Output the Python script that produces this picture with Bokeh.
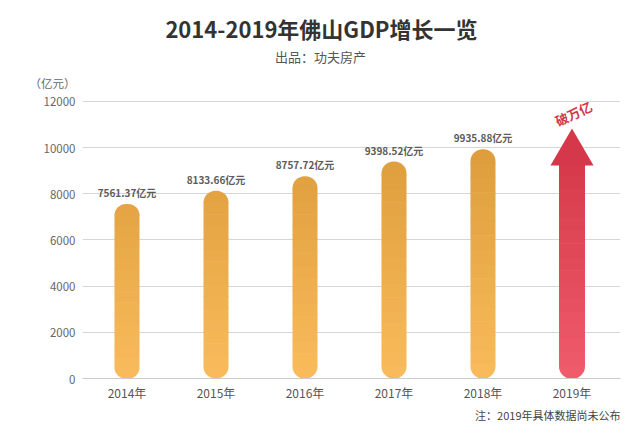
import numpy as np
from bokeh.plotting import figure
from bokeh.models import Range1d, FixedTicker, Label, ColumnDataSource, Title
from bokeh.core.properties import value
from bokeh.embed import file_html
from bokeh.resources import INLINE

# ---------------- data ----------------
years = ["2014年", "2015年", "2016年", "2017年", "2018年", "2019年"]
gdp = [7561.37, 8133.66, 8757.72, 9398.52, 9935.88]
gdp_text = ["7561.37亿元", "8133.66亿元", "8757.72亿元", "9398.52亿元", "9935.88亿元"]
arrow_tip = 10830        # 2019: arrow, value not yet published
arrow_head_base = 9230
arrow_text = "破万亿"
y_ticks = [0, 2000, 4000, 6000, 8000, 10000, 12000]
unit_tick = 12820
unit_text = "（亿元）"
title_text = "2014-2019年佛山GDP增长一览"
subtitle_text = "出品：功夫房产"
note_text = "注：2019年具体数据尚未公布"

FONT = "Noto Sans CJK SC"

# colours (bottom -> top gradient)
ORANGE_BOTTOM = (250, 187, 92)
ORANGE_TOP = (221, 157, 60)
RED_BOTTOM = (240, 92, 108)
RED_TOP = (212, 56, 72)
GRAD_MAX = 10000.0


def mix(c0, c1, t):
    t = max(0.0, min(1.0, t))
    return "#%02x%02x%02x" % tuple(int(round(a + (b - a) * t)) for a, b in zip(c0, c1))


p = figure(width=640, height=431, output_backend="svg", toolbar_location=None, title_location=None,
           x_range=Range1d(0, 6.045), y_range=Range1d(0, 16375),
           min_border_left=82, min_border_right=20, min_border_top=0, min_border_bottom=53)
p.outline_line_color = None
p.background_fill_color = "white"
p.border_fill_color = "white"

# y axis + grid
p.ygrid.ticker = FixedTicker(ticks=y_ticks)
p.ygrid.grid_line_color = "#d6d6d6"
p.ygrid.grid_line_width = 1
p.xgrid.grid_line_color = None
p.yaxis.ticker = FixedTicker(ticks=y_ticks + [unit_tick])
p.yaxis.major_label_overrides = {unit_tick: unit_text}
p.yaxis.axis_line_color = None
p.yaxis.major_tick_line_color = None
p.yaxis.minor_tick_line_color = None
p.yaxis.major_tick_out = 0
p.yaxis.major_tick_in = 0
p.yaxis.major_label_standoff = 7
p.yaxis.major_label_text_font = FONT
p.yaxis.major_label_text_font_size = "11.5px"
p.yaxis.major_label_text_color = "#666666"

# x axis
xt = [i + 0.5 for i in range(len(years))]
p.xaxis.ticker = FixedTicker(ticks=xt)
p.xaxis.major_label_overrides = {t: y for t, y in zip(xt, years)}
p.xaxis.axis_line_color = "#cccccc"
p.xaxis.major_tick_line_color = None
p.xaxis.minor_tick_line_color = None
p.xaxis.major_tick_out = 0
p.xaxis.major_tick_in = 0
p.xaxis.major_label_standoff = 5
p.xaxis.major_label_text_font = FONT
p.xaxis.major_label_text_font_size = "12px"
p.xaxis.major_label_text_color = "#555555"

# ---------------- bars built from gradient slices ----------------
BAR_W = 0.281
R = 12
N = 16
OV = 25

groups = {"bottom": dict(left=[], right=[], top=[], bottom=[], color=[]),
          "mid": dict(left=[], right=[], top=[], bottom=[], color=[]),
          "top": dict(left=[], right=[], top=[], bottom=[], color=[])}


def add_slices(xc, v, w, c0, c1, round_top):
    edges = np.linspace(0, v, N + 1)
    for k in range(N):
        b = edges[k] - (OV if k > 0 else 0)
        t = edges[k + 1]
        col = mix(c0, c1, (edges[k] + edges[k + 1]) / 2 / GRAD_MAX)
        if k == 0:
            g = "bottom"
        elif k == N - 1 and round_top:
            g = "top"
        else:
            g = "mid"
        d = groups[g]
        d["left"].append(xc - w / 2)
        d["right"].append(xc + w / 2)
        d["bottom"].append(b)
        d["top"].append(t)
        d["color"].append(col)


for i, v in enumerate(gdp):
    add_slices(i + 0.5, v, BAR_W, ORANGE_BOTTOM, ORANGE_TOP, True)

# 2019 arrow shaft
ax = len(gdp) + 0.5
add_slices(ax, arrow_head_base + 150, 0.292, RED_BOTTOM, RED_TOP, False)

p.quad(source=ColumnDataSource(groups["bottom"]), left="left", right="right", top="top", bottom="bottom",
       fill_color="color", line_color=None, border_radius=(0, 0, R, R))
p.quad(source=ColumnDataSource(groups["mid"]), left="left", right="right", top="top", bottom="bottom",
       fill_color="color", line_color=None)
p.quad(source=ColumnDataSource(groups["top"]), left="left", right="right", top="top", bottom="bottom",
       fill_color="color", line_color=None, border_radius=(R, R, 0, 0))

# arrow head
p.patch(x=[ax - 0.242, ax, ax + 0.242], y=[arrow_head_base, arrow_tip, arrow_head_base],
        fill_color="#d5384a", line_color=None)

# value labels
p.text(x=[i + 0.5 for i in range(len(gdp))], y=gdp, text=gdp_text,
       text_font=value(FONT), text_font_size="10px", text_font_style="bold",
       text_color="#5c5c5c", text_align="center", text_baseline="bottom", y_offset=-4)

# 破万亿
p.add_layout(Label(x=5.517, y=11480, text=arrow_text, angle=0.44, text_font=FONT,
                   text_font_size="13px", text_font_style="bold", text_color="#d3394b",
                   text_align="center", text_baseline="middle"))

# title & subtitle (inside the frame's top area)
p.add_layout(Label(x=2.685, y=15163, text=title_text, text_font=FONT, text_font_size="22px",
                   text_font_style="bold", text_color="#333333", text_align="center",
                   text_baseline="middle"))
p.add_layout(Label(x=2.674, y=13950, text=subtitle_text, text_font=FONT, text_font_size="13px",
                   text_color="#555555", text_align="center", text_baseline="middle"))

# note below the x axis
p.add_layout(Title(text=note_text, align="right", text_font=FONT, text_font_size="11px",
                   text_font_style="normal", text_color="#444444", standoff=2), "below")

open("out.html", "w").write(file_html(p, INLINE))
